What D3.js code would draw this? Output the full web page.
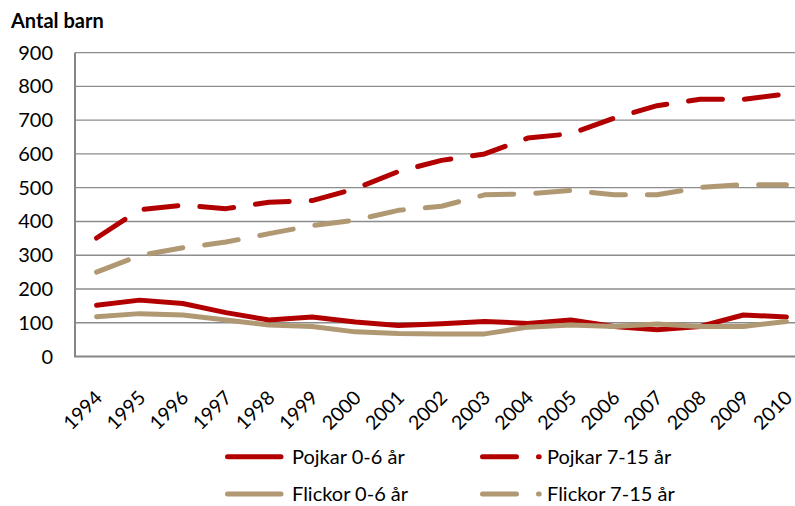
<!DOCTYPE html>
<html><head><meta charset="utf-8">
<script src="https://cdn.jsdelivr.net/npm/d3@7"></script>
<style>
body{margin:0;background:#fff;}
svg{display:block;font-family:Lato, "Noto Sans", sans-serif;}
</style></head>
<body>
<svg id="chart" width="795" height="506"></svg>
<script>
const years = ["1994","1995","1996","1997","1998","1999","2000","2001","2002","2003","2004","2005","2006","2007","2008","2009","2010"];
const pojkar06  = [152,167,157,130,108,117,102,92,97,104,98,108,89,79,89,123,117];
const pojkar715 = [351,435,448,438,457,462,497,548,581,600,647,660,706,743,762,762,778];
const flickor06 = [118,127,123,108,93,89,73,68,67,67,87,93,89,96,89,89,104];
const flickor715= [250,299,322,339,364,388,404,433,445,479,482,492,479,479,501,509,509];
const yTicks = [0,100,200,300,400,500,600,700,800,900];
const seriesNames = ["Pojkar 0-6 år","Pojkar 7-15 år","Flickor 0-6 år","Flickor 7-15 år"];
const yTitle = "Antal barn";

const red = "#B20000", tan = "#B09873";
const series = [
  {name: seriesNames[0], values: pojkar06, color: red, dash: null},
  {name: seriesNames[1], values: pojkar715, color: red, dash: "34 22"},
  {name: seriesNames[2], values: flickor06, color: tan, dash: null},
  {name: seriesNames[3], values: flickor715, color: tan, dash: "34 22"}
];

const svg = d3.select("#chart");
const pLeft = 75, pRight = 808, pTop = 52.7, pBottom = 356.5;
const x = d3.scaleBand().domain(years).range([pLeft, pRight]).padding(0);
const y = d3.scaleLinear().domain([0, 900]).range([pBottom, pTop]);

// gridlines
svg.append("g").selectAll("line").data(yTicks.filter(d => d > 0)).join("line")
  .attr("x1", pLeft).attr("x2", pRight)
  .attr("y1", d => y(d)).attr("y2", d => y(d))
  .attr("stroke", "#8c8c8c").attr("stroke-width", 1.3);

// axes lines
svg.append("line").attr("x1", pLeft).attr("x2", pLeft).attr("y1", pTop).attr("y2", pBottom)
  .attr("stroke", "#868686").attr("stroke-width", 2);
svg.append("line").attr("x1", pLeft - 1).attr("x2", pRight).attr("y1", pBottom).attr("y2", pBottom)
  .attr("stroke", "#868686").attr("stroke-width", 2);

// y tick labels
svg.append("g").selectAll("text").data(yTicks).join("text")
  .attr("x", 53).attr("y", d => y(d) + 7)
  .attr("text-anchor", "end").attr("font-size", 20).attr("fill", "#000")
  .text(d => d);

// title
svg.append("text").attr("x", 11).attr("y", 28).attr("font-size", 20)
  .attr("font-weight", "bold").attr("fill", "#000").text(yTitle);

// x tick labels
svg.append("g").selectAll("text").data(years).join("text")
  .attr("transform", d => `translate(${x(d) + x.bandwidth()/2 + 7},399) rotate(-45)`)
  .attr("text-anchor", "end").attr("font-size", 19.5).attr("fill", "#000")
  .text(d => d);

// lines
const line = d3.line().x((d, i) => x(years[i]) + x.bandwidth()/2).y(d => y(d));
svg.append("g").selectAll("path").data(series).join("path")
  .attr("d", d => line(d.values))
  .attr("fill", "none").attr("stroke", d => d.color).attr("stroke-width", 5)
  .attr("stroke-linecap", "round").attr("stroke-linejoin", "round")
  .attr("stroke-dasharray", d => d.dash);

// legend
const legendPos = [
  {lx: 225, ly: 456.7}, {lx: 480, ly: 456.7},
  {lx: 225, ly: 494}, {lx: 480, ly: 494}
];
const lg = svg.append("g").selectAll("g").data(series).join("g")
  .attr("transform", (d, i) => `translate(${legendPos[i].lx},${legendPos[i].ly})`);
lg.append("line").attr("x1", 2.5).attr("x2", d => d.dash ? 59.2 : 56).attr("y1", 0).attr("y2", 0)
  .attr("stroke", d => d.color).attr("stroke-width", 5).attr("stroke-linecap", "round")
  .attr("stroke-dasharray", d => d.dash);
lg.append("text").attr("x", 67).attr("y", 7)
  .attr("font-size", 20).attr("fill", "#000").text(d => d.name);
</script>
</body></html>
